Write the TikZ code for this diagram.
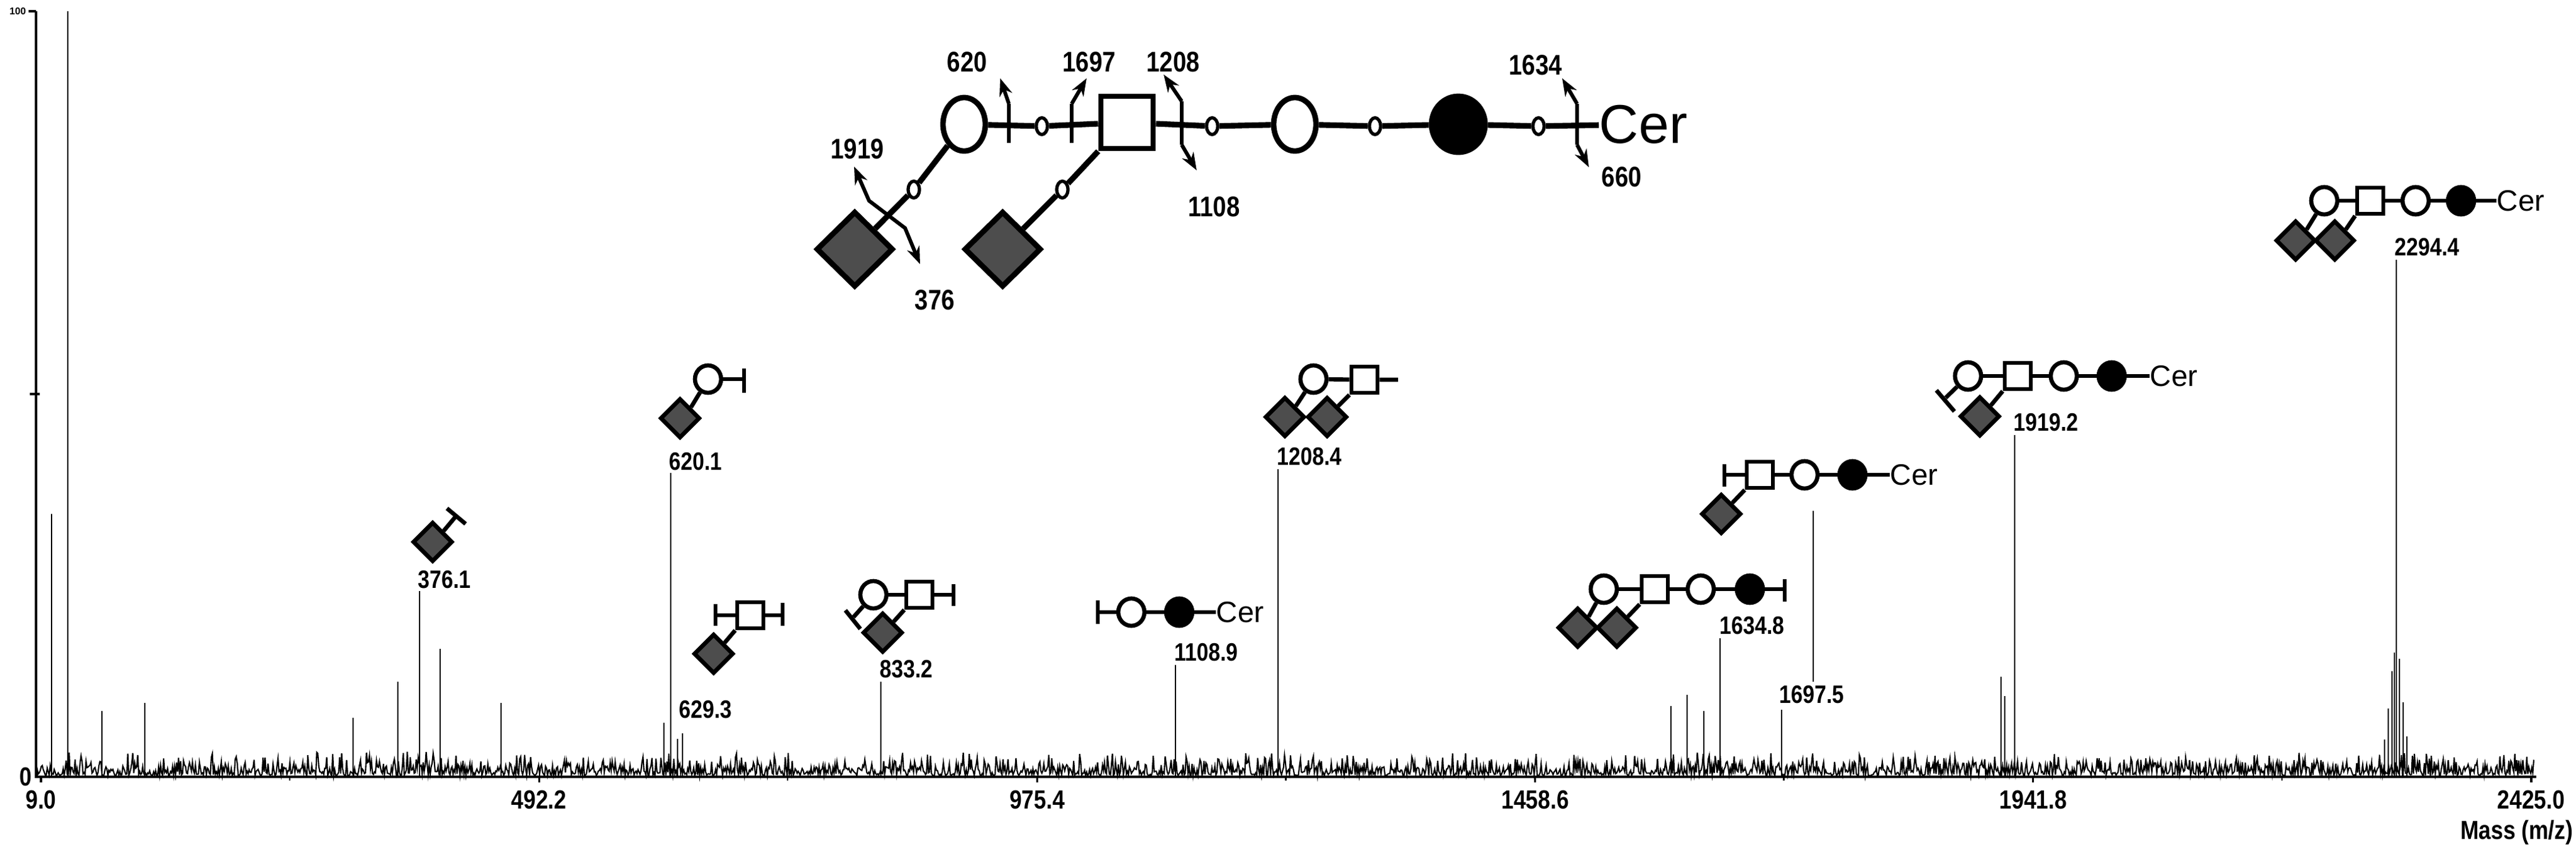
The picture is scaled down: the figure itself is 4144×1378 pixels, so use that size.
\documentclass[tikz,border=0pt]{standalone}
\usepackage{fontspec}
\setmainfont{Liberation Sans}
\newfontfamily\numfont[FakeStretch=0.84]{Liberation Sans}
\usetikzlibrary{shapes.geometric,arrows.meta,positioning}
\definecolor{siagray}{RGB}{77,77,77}
\tikzset{
  gal/.style={ellipse, draw, line width=1.9pt, fill=white, inner sep=0pt, minimum width=0.42cm, minimum height=0.44cm},
  glc/.style={gal, fill=black},
  gnac/.style={rectangle, draw, line width=1.9pt, fill=white, inner sep=0pt, minimum size=0.42cm},
  sia/.style={diamond, draw, line width=1.9pt, fill=siagray, inner sep=0pt, minimum width=0.64cm, minimum height=0.64cm},
  bgal/.style={gal, line width=2.5pt, minimum width=0.68cm, minimum height=0.86cm},
  bglc/.style={bgal, fill=black, minimum width=0.86cm, minimum height=0.9cm},
  bgnac/.style={gnac, line width=2.5pt, minimum size=0.84cm},
  bsia/.style={sia, line width=2.5pt, minimum width=1.24cm, minimum height=1.22cm},
  lnk/.style={ellipse, draw, line width=1.5pt, fill=white, inner sep=0pt, minimum width=0.18cm, minimum height=0.27cm},
  bond/.style={line width=1.9pt},
  bbond/.style={line width=2.6pt},
  cut/.style={line width=1.7pt},
  peak/.style={line width=0.8pt},
  mz/.style={font=\numfont\bfseries\fontsize{11.5}{12}\selectfont, inner sep=0pt},
  cz/.style={font=\numfont\bfseries\fontsize{13}{14}\selectfont, inner sep=0pt},
  ax/.style={font=\numfont\bfseries\fontsize{12}{13}\selectfont, inner sep=0pt},
  cer/.style={font=\fontsize{13.5}{14}\selectfont, inner sep=0pt, anchor=west},
}
\begin{document}
\begin{tikzpicture}[x=0.01cm,y=-0.01cm]
\useasboundingbox (0,0) rectangle (4144,1378);

% axes
\draw[line width=0.9pt] (58,18) -- (58,1250) -- (4080,1250);
\draw[line width=0.9pt] (46,18) -- (58,18);
\draw[line width=0.9pt] (48,634) -- (64,634);
\node[font=\bfseries\fontsize{4.5}{5}\selectfont, anchor=east, inner sep=1pt] (ymax) at (46,18) {100};
\node[ax, anchor=east] (yzero) at (52,1250) {0};
\foreach \k/\lab in {0/9.0,1/492.2,2/975.4,3/1458.6,4/1941.8,5/2425.0} {
  \draw[line width=0.9pt] ({66+\k*801.2},1250) -- ++(0,9);
  \node[ax] (tk\k) at ({66+\k*801.2},1287) {\lab};
}
\foreach \k in {0,...,4} {\draw[line width=0.7pt] ({466+\k*801.2},1250) -- ++(0,6);}
\node[ax, anchor=east] (mass) at (4140,1340) {Mass (m/z)};

% noise
\pgfmathsetseed{11}
\draw[line width=0.6pt] (60,1250) \foreach \i in {0,...,2510} {-- ({60+\i*1.6},{1260-12-40*rnd*rnd})};

% peaks
\foreach \px/\py in {83/827,109/18,164/1144,233/1131,568/1155,640/1097,675/951,708/1044,806/1131,
  1068/1163,1079/761,1090/1189,1098/1180,1417/1097,1891/1070,2056/755,2688/1136,2714/1118,
  2741/1144,2767/1027,2866/1142,3219/1089,3241/700,3225/1120,3855/418,
  3836/1190,3842/1140,3848/1080,3852/1050,3860/1060,3866/1130,3872/1185} {
  \draw[peak] (\px,1250) -- (\px,\py);
}

% peak labels
\node[mz, anchor=south west] (p376) at (672,948) {376.1};
\node[mz, anchor=south west] (p620) at (1076,758) {620.1};
\node[mz, anchor=west] (p629) at (1092,1142) {629.3};
\node[mz, anchor=south west] (p833) at (1415,1092) {833.2};
\node[mz, anchor=south west] (p1108) at (1889,1065) {1108.9};
\node[mz, anchor=south west] (p1208) at (2054,750) {1208.4};
\node[mz, anchor=south west] (p1634) at (2766,1022) {1634.8};
\node[mz, anchor=west] (p1697) at (2862,1118) {1697.5};
\node[mz, anchor=south west] (p1919) at (3239,695) {1919.2};
\node[mz, anchor=south west] (p2294) at (3852,413) {2294.4};
\coordinate (ld1) at (2917,822);
\coordinate (ld2) at (2917,1097);
\draw[peak] (ld1) -- (ld2);

% main structure
\node[bgal] (mg1) at (1551,200) {};
\node[lnk] (mk1) at (1676,203) {};
\node[bgnac] (msq) at (1813,197) {};
\node[lnk] (mk2) at (1950,203) {};
\node[bgal] (mg2) at (2083,200) {};
\node[lnk] (mk3) at (2212,203) {};
\node[bglc] (mgc) at (2346,200) {};
\node[lnk] (mk4) at (2475,203) {};
\node[font=\fontsize{25}{26}\selectfont, inner sep=0pt, anchor=west] (mcer) at (2572,200) {Cer};
\node[bsia] (md1) at (1375,401) {};
\node[bsia] (md2) at (1613,401) {};
\node[lnk] (mk5) at (1470,305) {};
\node[lnk] (mk6) at (1709,305) {};
\draw[bbond] (mg1) -- (mk1) -- (msq) -- (mk2) -- (mg2) -- (mk3) -- (mgc) -- (mk4) -- (mcer);
\draw[bbond] (mg1) -- (mk5) -- (md1);
\draw[bbond] (msq.south west) -- (mk6) -- (md2);
% cleavages
\draw[cut] (1623,167) -- (1623,230);
\draw[cut,-{Stealth[length=8pt,width=6pt]}] (1623,167) -- (1609,126);
\draw[cut] (1724,167) -- (1724,230);
\draw[cut,-{Stealth[length=8pt,width=6pt]}] (1724,167) -- (1748,126);
\draw[cut] (1901,163) -- (1901,233);
\draw[cut,-{Stealth[length=8pt,width=6pt]}] (1901,163) -- (1872,120);
\draw[cut,-{Stealth[length=8pt,width=6pt]}] (1901,233) -- (1925,274);
\draw[cut] (2537,167) -- (2537,233);
\draw[cut,-{Stealth[length=8pt,width=6pt]}] (2537,167) -- (2513,126);
\draw[cut,-{Stealth[length=8pt,width=6pt]}] (2537,233) -- (2556,269);
\draw[cut,{Stealth[length=8pt,width=6pt]}-{Stealth[length=8pt,width=6pt]}] (1374,268) -- (1398,323) -- (1456,367) -- (1480,425);
\node[cz] (c620) at (1556,100) {620};
\node[cz] (c1697) at (1752,100) {1697};
\node[cz] (c1208) at (1887,100) {1208};
\node[cz] (c1108) at (1953,333) {1108};
\node[cz] (c1634) at (2470,105) {1634};
\node[cz] (c660) at (2609,285) {660};
\node[cz] (c1919) at (1379,240) {1919};
\node[cz] (c376) at (1504,483) {376};

% 376.1
\node[sia] (a1) at (696,872) {};
\coordinate (a1s) at (734,830);
\draw[bond] (a1.north east) -- (a1s);
\draw[bond] (719,818) -- (749,843);

% 620.1
\node[gal] (b1) at (1139,610) {};
\node[sia] (b2) at (1094,673) {};
\coordinate (b1s) at (1197,610);
\draw[bond] (b1) -- (b2.north east);
\draw[bond] (b1) -- (b1s);
\draw[bond] (1197,593) -- (1197,632);

% 629.3
\node[gnac] (c1) at (1207,990) {};
\node[sia] (c2) at (1148,1052) {};
\coordinate (c1l) at (1151,990);
\coordinate (c1r) at (1259,990);
\draw[bond] (c1.south west) -- (c2.north east);
\draw[bond] (c1) -- (c1l);
\draw[bond] (1151,972) -- (1151,1007);
\draw[bond] (c1) -- (c1r);
\draw[bond] (1259,970) -- (1259,1007);

% 833.2
\node[gal] (d1) at (1405,957) {};
\node[gnac] (d2) at (1479,957) {};
\node[sia] (d3) at (1420,1018) {};
\coordinate (d2r) at (1534,957);
\draw[bond] (d1) -- (d2);
\draw[bond] (d2.south west) -- (d3.north east);
\draw[bond] (d2) -- (d2r);
\draw[bond] (1534,940) -- (1534,975);
\coordinate (d1s) at (1373,993);
\draw[bond] (d1) -- (d1s);
\draw[bond] (1360,982) -- (1384,1012);

% 1108.9
\node[gal] (e1) at (1820,985) {};
\node[glc] (e2) at (1897,985) {};
\node[cer] (e3) at (1956,985) {Cer};
\coordinate (e1l) at (1766,985);
\draw[bond] (e1l) -- (e1) -- (e2) -- (e3);
\draw[bond] (1766,966) -- (1766,1004);

% 1208.4
\node[gal] (f1) at (2113,610) {};
\node[gnac] (f2) at (2195,611) {};
\node[sia] (f3) at (2067,671) {};
\node[sia] (f4) at (2135,671) {};
\coordinate (f2r) at (2249,611);
\draw[bond] (f1) -- (f2) -- (f2r);
\draw[bond] (f1) -- (f3.north east);
\draw[bond] (f2.south west) -- (f4.north east);

% 1634.8
\node[gal] (g1) at (2580,948) {};
\node[gnac] (g2) at (2662,948) {};
\node[gal] (g3) at (2736,948) {};
\node[glc] (g4) at (2815,948) {};
\node[sia] (g5) at (2538,1010) {};
\node[sia] (g6) at (2601,1010) {};
\coordinate (g4r) at (2871,948);
\draw[bond] (g1) -- (g2) -- (g3) -- (g4) -- (g4r);
\draw[bond] (2871,932) -- (2871,968);
\draw[bond] (g1) -- (g5.north east);
\draw[bond] (g2.south west) -- (g6.north east);

% 1697.5
\node[gnac] (h1) at (2831,764) {};
\node[gal] (h2) at (2903,764) {};
\node[glc] (h3) at (2980,764) {};
\node[cer] (h4) at (3040,764) {Cer};
\node[sia] (h5) at (2769,827) {};
\coordinate (h1l) at (2774,764);
\draw[bond] (h1l) -- (h1) -- (h2) -- (h3) -- (h4);
\draw[bond] (2774,747) -- (2774,783);
\draw[bond] (h1.south west) -- (h5.north east);

% 1919.2
\node[gal] (i1) at (3166,605) {};
\node[gnac] (i2) at (3246,605) {};
\node[gal] (i3) at (3320,605) {};
\node[glc] (i4) at (3397,605) {};
\node[cer] (i5) at (3458,605) {Cer};
\node[sia] (i6) at (3185,670) {};
\draw[bond] (i1) -- (i2) -- (i3) -- (i4) -- (i5);
\draw[bond] (i2.south west) -- (i6.north east);
\coordinate (i1s) at (3130,640);
\draw[bond] (i1) -- (i1s);
\draw[bond] (3115,628) -- (3144,662);

% 2294.4
\node[gal] (j1) at (3739,323) {};
\node[gnac] (j2) at (3813,323) {};
\node[gal] (j3) at (3886,323) {};
\node[glc] (j4) at (3959,323) {};
\node[cer] (j5) at (4016,323) {Cer};
\node[sia] (j6) at (3693,387) {};
\node[sia] (j7) at (3756,387) {};
\draw[bond] (j1) -- (j2) -- (j3) -- (j4) -- (j5);
\draw[bond] (j1) -- (j6.north east);
\draw[bond] (j2.south west) -- (j7.north east);
\end{tikzpicture}
\end{document}
